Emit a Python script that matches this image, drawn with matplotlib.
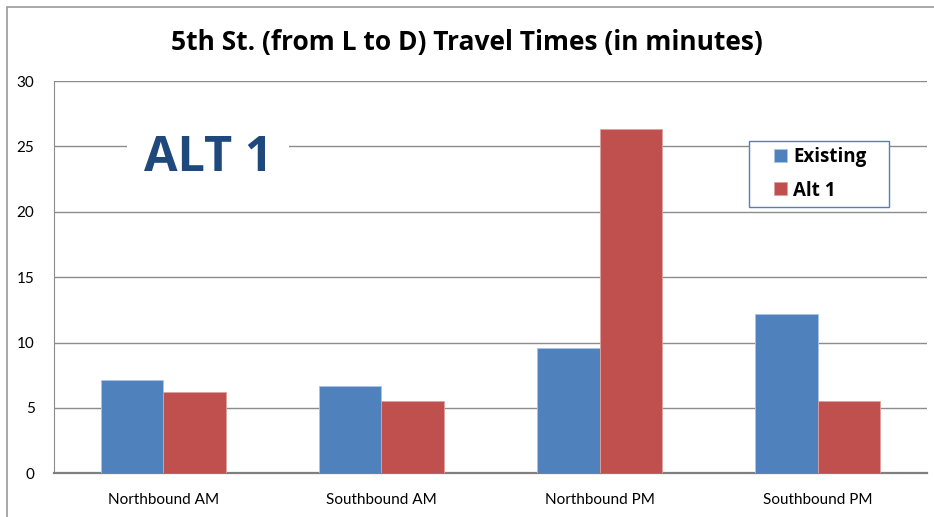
import matplotlib.pyplot as plt
from matplotlib.patches import Rectangle
import numpy as np

categories = ["Northbound AM", "Southbound AM", "Northbound PM", "Southbound PM"]
existing = [7.1, 6.7, 9.6, 12.2]
alt1 = [6.2, 5.5, 26.3, 5.5]
series_names = ["Existing", "Alt 1"]

BLUE = "#4F81BD"
RED = "#C0504D"

plt.rcParams['font.family'] = ['Lato', 'DejaVu Sans']
BOLD_FONT = ['Open Sans', 'DejaVu Sans']

W, H = 934, 517
fig = plt.figure(figsize=(W / 100, H / 100), dpi=100)
ax = fig.add_axes([0.0578, 0.0845, 0.9347, 0.7588])

# outer chart border
fig.patches.append(Rectangle((7 / W, -0.01), 1.0, 1 - 7 / H + 0.01,
                             transform=fig.transFigure, fill=False,
                             edgecolor="#9a9a9a", linewidth=1.2))

x = np.arange(len(categories))
w = 0.286
ax.bar(x - w / 2, existing, w, color=BLUE, edgecolor="#a9c4e6", linewidth=0.6,
       label=series_names[0], zorder=3)
ax.bar(x + w / 2, alt1, w, color=RED, edgecolor="#e0a09e", linewidth=0.6,
       label=series_names[1], zorder=3)

ax.set_xlim(-0.5, len(categories) - 0.5)
ax.set_ylim(0, 30)
ax.set_yticks(range(0, 31, 5))
ax.set_xticks(x)
ax.set_xticklabels(categories, fontsize=11)
ax.tick_params(axis='y', labelsize=11, length=0, pad=14)
ax.tick_params(axis='x', length=0, pad=14)
ax.grid(axis='y', color="#8c8c8c", linewidth=1.0, zorder=0)
for s in ["top", "right"]:
    ax.spines[s].set_visible(False)
ax.spines["left"].set_color("#8c8c8c")
ax.spines["bottom"].set_color("#7f7f7f")
ax.spines["bottom"].set_linewidth(1.6)
ax.set_axisbelow(True)

fig.text(0.5, 0.918, "5th St. (from L to D) Travel Times (in minutes)",
         ha='center', va='center', fontsize=19, fontweight='bold',
         family=BOLD_FONT)

ax.text(0.206, 24.1, "ALT 1", ha='center', va='center', fontsize=35,
        fontweight='bold', color="#1F497D", zorder=4, family=BOLD_FONT,
        bbox=dict(facecolor='white', edgecolor='none', pad=12))

# legend box drawn separately so it can be wider than its content
ax.add_patch(Rectangle((749 / W, 1 - 207 / H), 140 / W, 66 / H,
                       transform=fig.transFigure, facecolor='white',
                       edgecolor=BLUE, linewidth=1.0, zorder=5, clip_on=False))
leg = ax.legend(loc='upper left', bbox_to_anchor=(774 / W, 1 - 147 / H),
                bbox_transform=fig.transFigure, frameon=False,
                handlelength=0.68, handleheight=0.68, handletextpad=0.35,
                borderpad=0, labelspacing=0.72, borderaxespad=0,
                prop={'weight': 'bold', 'size': 13.5, 'family': BOLD_FONT})
leg.set_zorder(6)

fig.savefig("out.png", dpi=100)
